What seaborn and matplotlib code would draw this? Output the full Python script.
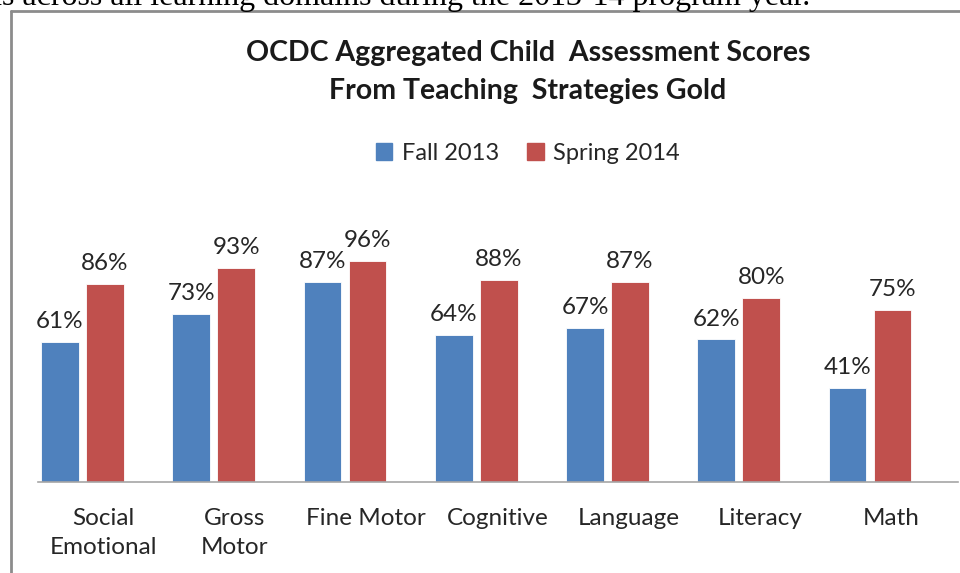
import matplotlib
matplotlib.use("Agg")
import matplotlib.pyplot as plt
from matplotlib.lines import Line2D
import seaborn as sns
import pandas as pd
import numpy as np

categories = ["Social\nEmotional", "Gross\nMotor", "Fine Motor", "Cognitive", "Language", "Literacy", "Math"]
series_names = ["Fall 2013", "Spring 2014"]
fall_2013 = [61, 73, 87, 64, 67, 62, 41]
spring_2014 = [86, 93, 96, 88, 87, 80, 75]
colors = ["#4F81BD", "#C0504D"]

df = pd.DataFrame({
    "Domain": categories * 2,
    "Season": [series_names[0]] * len(categories) + [series_names[1]] * len(categories),
    "Score": fall_2013 + spring_2014,
})

sns.set_theme(style="white")
plt.rcParams["font.family"] = ["Lato", "DejaVu Sans"]

W, H = 960, 573
fig = plt.figure(figsize=(W / 100, H / 100), dpi=100)
ax = fig.add_axes([38 / W, (H - 482) / H, 920 / W, 230 / H])

sns.barplot(data=df, x="Domain", y="Score", hue="Season", order=categories,
            hue_order=series_names, palette=colors, width=0.686, gap=0.16,
            ax=ax, legend=False, saturation=1, edgecolor="white", linewidth=0.6)

ax.set_ylim(0, 100)
ax.set_xlim(-0.339, 6.67)
for cont in ax.containers:
    ax.bar_label(cont, labels=[f"{int(v)}%" for v in cont.datavalues], padding=7,
                 fontsize=17.5, color="#262626")

ax.set_xticks(np.arange(len(categories)) + 0.16)
ax.set_xticklabels(categories, fontsize=17.5, color="#262626", linespacing=1.45)
ax.tick_params(axis="x", length=0, pad=19)
ax.set_yticks([])
ax.set_xlabel("")
ax.set_ylabel("")
for s in ["top", "right", "left"]:
    ax.spines[s].set_visible(False)
ax.spines["bottom"].set_color("#A6A6A6")
ax.spines["bottom"].set_linewidth(1.2)

# title and legend
fig.text(528 / W, 1 - 53 / H, "OCDC Aggregated Child  Assessment Scores", ha="center", va="center",
         fontsize=20.5, fontweight="bold", color="#1a1a1a")
fig.text(528 / W, 1 - 91 / H, "From Teaching  Strategies Gold", ha="center", va="center",
         fontsize=20.5, fontweight="bold", color="#1a1a1a")
handles = [plt.Rectangle((0, 0), 1, 1, color=c) for c in colors]
fig.legend(handles, series_names, loc="center", bbox_to_anchor=(528 / W, 1 - 153 / H), ncol=2,
           frameon=False, fontsize=17, handlelength=0.7, handleheight=0.7, handletextpad=0.4,
           columnspacing=1.2, labelcolor="#262626")

# chart border (top and left)
fig.add_artist(Line2D([11 / W, 11 / W], [0, 1 - 11 / H], color="#8C8C8C", lw=2))
fig.add_artist(Line2D([11 / W, 1], [1 - 11 / H, 1 - 11 / H], color="#8C8C8C", lw=2))

# cut-off document text above the chart
fig.text(810 / W, 1 - 5 / H, "ns across all learning domains during the 2013-14 program year.",
         ha="right", va="baseline", fontsize=23, family=["Liberation Serif", "DejaVu Serif"],
         color="black")

fig.savefig("out.png", dpi=100)
